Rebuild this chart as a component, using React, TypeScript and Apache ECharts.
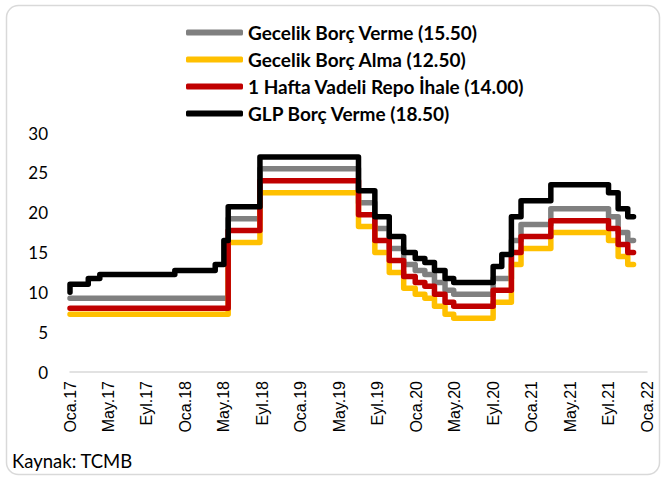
import React, { useEffect, useRef } from "react";
import * as echarts from "echarts";

// x positions are months since Oca.17 (0 = Jan 2017, 60 = Jan 2022)
const policyMonths = [0, 16.45, 19.75, 30, 31.7, 33.2, 34.7, 35.9, 36.9, 37.9, 39, 39.9, 44, 45.9, 46.9, 50, 56, 57, 58, 58.6];
const onLending = [9.25, 19.25, 25.5, 21.25, 18, 15.5, 13.5, 12.75, 12.25, 11.25, 10.25, 9.75, 11.75, 16.5, 18.5, 20.5, 19.5, 17.5, 16.5, 16.5];
const onBorrowing = [7.25, 16.25, 22.5, 18.25, 15, 12.5, 10.5, 9.75, 9.25, 8.25, 7.25, 6.75, 8.75, 13.5, 15.5, 17.5, 16.5, 14.5, 13.5, 13.5];
const repo = [8, 17.75, 24, 19.75, 16.5, 14, 12, 11.25, 10.75, 9.75, 8.75, 8.25, 10.25, 15, 17, 19, 18, 16, 15, 15];

const glpMonths = [0, 0, 1.9, 3.1, 10.9, 15.1, 16.0, 16.45, 19.75, 30, 31.7, 33.2, 34.7, 35.9, 36.9, 37.9, 39, 39.9, 44, 44.9, 45.9, 46.9, 50, 56, 57, 58, 58.6];
const glpLending = [10, 11, 11.75, 12.25, 12.75, 13.5, 16.5, 20.75, 27, 22.75, 19.5, 17, 15, 14.25, 13.75, 12.75, 11.75, 11.25, 13.25, 14.75, 19.5, 21.5, 23.5, 22.5, 20.5, 19.5, 19.5];

const seriesNames = [
  "Gecelik Borç Verme (15.50)",
  "Gecelik Borç Alma (12.50)",
  "1 Hafta Vadeli Repo İhale (14.00)",
  "GLP Borç Verme (18.50)",
];
const seriesColors = ["#808080", "#FFC000", "#C00000", "#000000"];
const monthNames = ["Oca", "May", "Eyl"];
const yTicks = [0, 5, 10, 15, 20, 25, 30];
const sourceText = "Kaynak: TCMB";

const pair = (xs: number[], ys: number[]) => xs.map((x, i) => [x, ys[i]]);

export default function App() {
  const ref = useRef<HTMLDivElement>(null);
  useEffect(() => {
    if (!ref.current) return;
    const chart = echarts.init(ref.current, undefined, { renderer: "svg" });
    const dataSets = [
      pair(policyMonths, onLending),
      pair(policyMonths, onBorrowing),
      pair(policyMonths, repo),
      pair(glpMonths, glpLending),
    ];
    chart.setOption({
      animation: false,
      backgroundColor: "#ffffff",
      grid: { left: 70, right: 19, top: 133, bottom: 108 },
      legend: {
        orient: "vertical",
        left: 181,
        top: 18,
        itemWidth: 57,
        itemHeight: 6,
        itemGap: 8,
        icon: "roundRect",
        data: seriesNames,
        textStyle: {
          fontFamily: "Lato",
          fontWeight: "bold",
          fontSize: 19,
          color: "#000",
          lineHeight: 19,
        },
      },
      xAxis: {
        type: "value",
        min: 0,
        max: 60,
        interval: 4,
        axisLine: { show: true, lineStyle: { color: "#D9D9D9", width: 1.5 } },
        axisTick: { show: false },
        splitLine: { show: false },
        axisLabel: {
          rotate: 90,
          margin: 9,
          fontFamily: "Liberation Sans",
          fontSize: 16,
          color: "#000",
          formatter: (v: number) => {
            const idx = Math.round(v / 4) % 3;
            const yr = 17 + Math.floor(Math.round(v) / 12);
            return monthNames[idx] + "." + yr;
          },
        },
      },
      yAxis: {
        type: "value",
        min: yTicks[0],
        max: yTicks[yTicks.length - 1],
        interval: 5,
        axisLine: { show: false },
        axisTick: { show: false },
        splitLine: { show: false },
        axisLabel: {
          margin: 22,
          fontFamily: "Lato",
          fontSize: 17,
          color: "#000",
        },
      },
      series: seriesNames.map((name, i) => ({
        name,
        type: "line",
        step: "end",
        showSymbol: false,
        symbol: "none",
        color: seriesColors[i],
        lineStyle: { color: seriesColors[i], width: 5.5, cap: "round", join: "round" },
        data: dataSets[i],
        z: 2 + i,
      })),
      graphic: [
        {
          type: "rect",
          shape: { x: 6.5, y: 5.5, width: 653, height: 469, r: 12 },
          style: { fill: "none", stroke: "#D9D9D9", lineWidth: 1.5 },
          silent: true,
          z: -1,
        },
        {
          type: "text",
          left: 12,
          top: 451,
          style: { text: sourceText, fontFamily: "Lato", fontSize: 18.5, fill: "#000" },
        },
      ],
    });
    return () => chart.dispose();
  }, []);
  return <div ref={ref} style={{ width: 666, height: 480, position: "absolute", left: 0, top: 0 }} />;
}
